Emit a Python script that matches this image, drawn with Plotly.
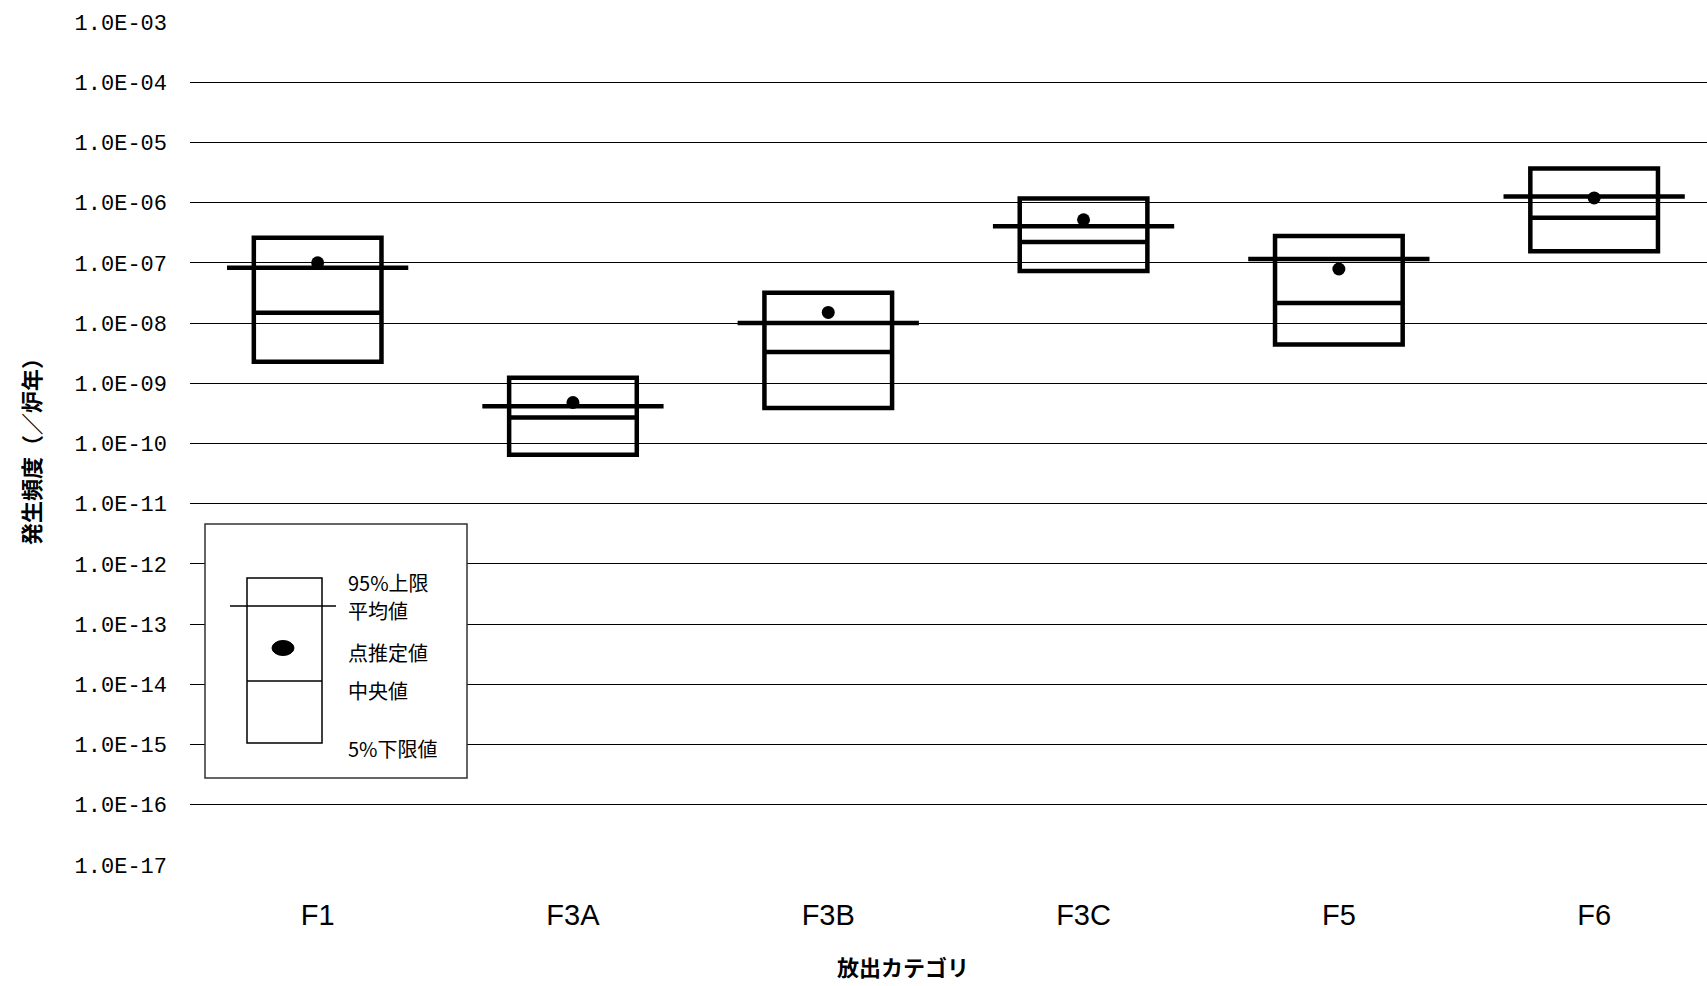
import plotly.graph_objects as go

# ---- data ----
categories = ["F1", "F3A", "F3B", "F3C", "F5", "F6"]
upper95 = [2.6e-7, 1.23e-9, 3.2e-8, 1.17e-6, 2.8e-7, 3.7e-6]
mean_vals = [8.3e-8, 4.15e-10, 1.0e-8, 4.06e-7, 1.16e-7, 1.26e-6]
point_est = [1.0e-7, 4.8e-10, 1.5e-8, 5.2e-7, 7.9e-8, 1.2e-6]
median_vals = [1.48e-8, 2.7e-10, 3.3e-9, 2.23e-7, 2.16e-8, 5.6e-7]
lower5 = [2.27e-9, 6.5e-11, 3.9e-10, 7.3e-8, 4.4e-9, 1.56e-7]

exponents = list(range(-3, -18, -1))
tick_vals = [10.0 ** e for e in exponents]
tick_text = ["1.0E-%02d" % (-e) for e in exponents]
grid_vals = tick_vals[1:-1]

legend_labels = ["95%上限", "平均値", "点推定値", "中央値", "5%下限値"]
y_title = "発生頻度（／炉年）"
x_title = "放出カテゴリ"

# ---- layout geometry ----
W, H = 1707, 986
ML, MR, MT, MB = 190, 0, 22, 121
PW, PH = W - ML - MR, H - MT - MB
X_RANGE = [-0.5, 5.442]
BOX_W = 0.50
MEAN_HALF = 0.355

xs = list(range(len(categories)))

fig = go.Figure()

# boxes (5% .. 95% with median)
fig.add_trace(go.Box(
    x=xs, q1=lower5, median=median_vals, q3=upper95,
    lowerfence=lower5, upperfence=upper95,
    width=BOX_W, whiskerwidth=0,
    line=dict(color="black", width=4.5),
    fillcolor="rgba(0,0,0,0)", boxpoints=False,
    showlegend=False, hoverinfo="skip",
))

# mean lines (wider than the box)
mx, my = [], []
for i, m in zip(xs, mean_vals):
    mx += [i - MEAN_HALF, i + MEAN_HALF, None]
    my += [m, m, None]
fig.add_trace(go.Scatter(
    x=mx, y=my, mode="lines",
    line=dict(color="black", width=4.5),
    showlegend=False, hoverinfo="skip",
))

# point estimates
fig.add_trace(go.Scatter(
    x=xs, y=point_est, mode="markers",
    marker=dict(color="black", size=13, symbol="circle"),
    showlegend=False,
))

# invisible trace on overlay axis carrying gridlines
fig.add_trace(go.Scatter(
    x=[xs[0]], y=[tick_vals[0]], yaxis="y2", mode="markers",
    marker=dict(opacity=0), showlegend=False, hoverinfo="skip",
))

tick_font = dict(family="Liberation Mono, DejaVu Sans Mono, monospace", size=22, color="black")
cjk = "Noto Sans CJK JP"

fig.update_layout(
    width=W, height=H,
    margin=dict(l=ML, r=MR, t=MT, b=MB),
    paper_bgcolor="white", plot_bgcolor="white",
    showlegend=False,
    xaxis=dict(
        type="linear", range=X_RANGE,
        tickmode="array", tickvals=xs, ticktext=categories,
        showgrid=False, zeroline=False, showline=False, ticks="",
        tickfont=dict(family="Liberation Sans Narrow, Liberation Sans, Arial", size=29, color="black"),
        ticklabelstandoff=30,
    ),
    yaxis=dict(
        type="log", range=[-17, -3],
        tickmode="array", tickvals=tick_vals, ticktext=tick_text,
        showgrid=False, zeroline=False, showline=False, ticks="",
        tickfont=tick_font, ticklabelstandoff=22,
    ),
    yaxis2=dict(
        type="log", range=[-17, -3], overlaying="y", side="left",
        tickmode="array", tickvals=grid_vals,
        showgrid=True, gridcolor="black", gridwidth=1.4,
        showticklabels=False, zeroline=False, showline=False, ticks="",
    ),
)

def xp(px):
    return (px - ML) / PW

def yp(py):
    return (H - MB - py) / PH

# axis titles as annotations (positioned as in the reference)
fig.add_annotation(
    x=xp(903), y=yp(966), xref="paper", yref="paper",
    text=x_title, showarrow=False, xanchor="center", yanchor="middle",
    font=dict(family=cjk, size=22, color="black", weight="bold"),
)
fig.add_annotation(
    x=xp(30), y=yp(446), xref="paper", yref="paper",
    text=y_title, showarrow=False, xanchor="center", yanchor="middle",
    textangle=-90,
    font=dict(family=cjk, size=22, color="black", weight="bold"),
)

# ---- explanatory legend box ----
shapes = []
shapes.append(dict(type="rect", xref="paper", yref="paper",
                   x0=xp(205), x1=xp(467), y0=yp(778), y1=yp(524),
                   fillcolor="white", line=dict(color="#333333", width=1.5), layer="above"))
shapes.append(dict(type="rect", xref="paper", yref="paper",
                   x0=xp(247), x1=xp(322), y0=yp(743), y1=yp(578),
                   fillcolor="rgba(0,0,0,0)", line=dict(color="black", width=1.5), layer="above"))
shapes.append(dict(type="line", xref="paper", yref="paper",
                   x0=xp(230), x1=xp(336), y0=yp(606), y1=yp(606),
                   line=dict(color="black", width=1.5), layer="above"))
shapes.append(dict(type="line", xref="paper", yref="paper",
                   x0=xp(247), x1=xp(322), y0=yp(681), y1=yp(681),
                   line=dict(color="black", width=1.5), layer="above"))
shapes.append(dict(type="circle", xref="paper", yref="paper",
                   x0=xp(272), x1=xp(294), y0=yp(655.5), y1=yp(640.5),
                   fillcolor="black", line=dict(color="black", width=1), layer="above"))
fig.update_layout(shapes=shapes)

label_y = [582, 610, 652, 690, 748]
for txt, ly in zip(legend_labels, label_y):
    fig.add_annotation(
        x=xp(347), y=yp(ly), xref="paper", yref="paper",
        text=txt, showarrow=False, xanchor="left", yanchor="middle",
        height=24, valign="middle", borderpad=0,
        font=dict(family=cjk, size=20, color="black"),
    )

fig.write_html(
    "out.html",
    config={"displayModeBar": False},
    post_script="document.body.style.margin='0';document.body.style.overflow='hidden';",
)
